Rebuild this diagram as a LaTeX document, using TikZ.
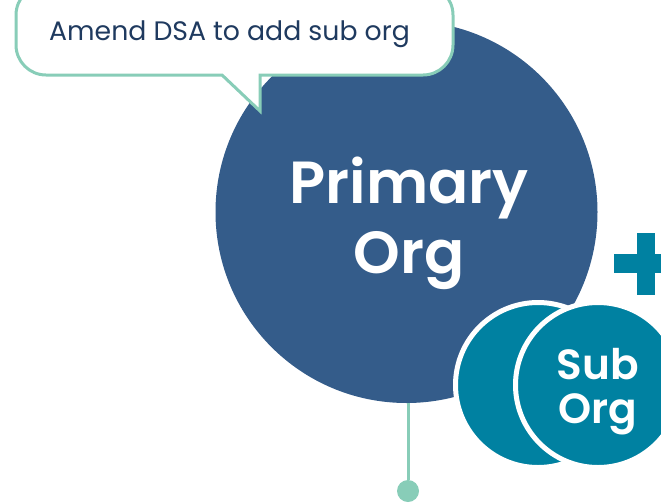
\documentclass[tikz,border=0pt]{standalone}
\usepackage{fontspec}
\setmainfont{Poppins}
\newfontfamily\semifont{Poppins SemiBold}
\usetikzlibrary{positioning}
\definecolor{orgblue}{HTML}{345C8A}
\definecolor{subteal}{HTML}{0081A1}
\definecolor{mintline}{HTML}{88CDB8}
\definecolor{inknavy}{HTML}{1F3A5F}
\begin{document}
\begin{tikzpicture}[on grid,
	orgcircle/.style={circle, fill=orgblue, minimum size=7.64cm, inner sep=0pt},
	orgtext/.style={text=white, align=center, inner sep=0pt, font=\fontsize{33.8}{40}\semifont},
	subcircle/.style={circle, fill=subteal, draw=white, line width=0.1cm, minimum size=3.3cm, inner sep=0pt},
	subtext/.style={text=white, align=center, inner sep=0pt, font=\fontsize{24}{25}\semifont},
	plusbar/.style={fill=subteal, inner sep=0pt},
	bubble/.style={draw=mintline, fill=white, line width=0.06cm},
	stem/.style={draw=mintline, line width=0.06cm}]
	\useasboundingbox (0,0) rectangle (13.22,10.06);

	\node[orgcircle] (primary) at (8.13,5.82) {};
	\node[circle, fill=mintline, minimum size=0.44cm, inner sep=0pt] (dot) [below=5.58cm of primary, xshift=0.03cm] {};
	\draw[stem] (dot) -- (dot |- primary.south);
	\node[orgtext] (primarylabel) [below=0.22cm of primary, xshift=0.05cm] {Primary\\Org};

	\node[subcircle] (back) at (10.76,2.36) {};
	\node[subcircle] (front) [right=1.2cm of back] {};
	\node[subtext] (frontlabel) [below=0.14cm of front] {Sub\\Org};

	\node[plusbar, minimum width=0.37cm, minimum height=1.24cm] (plusv) at (12.92,4.78) {};
	\node[plusbar, minimum width=1cm, minimum height=0.38cm] (plush) at (12.78,4.79) {};

	\draw[bubble] (5.2,7.84) -- (5.2,8.56) [rounded corners=0.6cm] -- (9.06,8.56) -- (9.06,10.36) -- (0.32,10.36) -- (0.32,8.56) -- (2,8.56) [sharp corners] -- (4.44,8.56) -- cycle;
	\node[text=inknavy, font=\fontsize{15.2}{18}\selectfont] (amend) at (4.59,9.37) {Amend DSA to add sub org};
\end{tikzpicture}
\end{document}
